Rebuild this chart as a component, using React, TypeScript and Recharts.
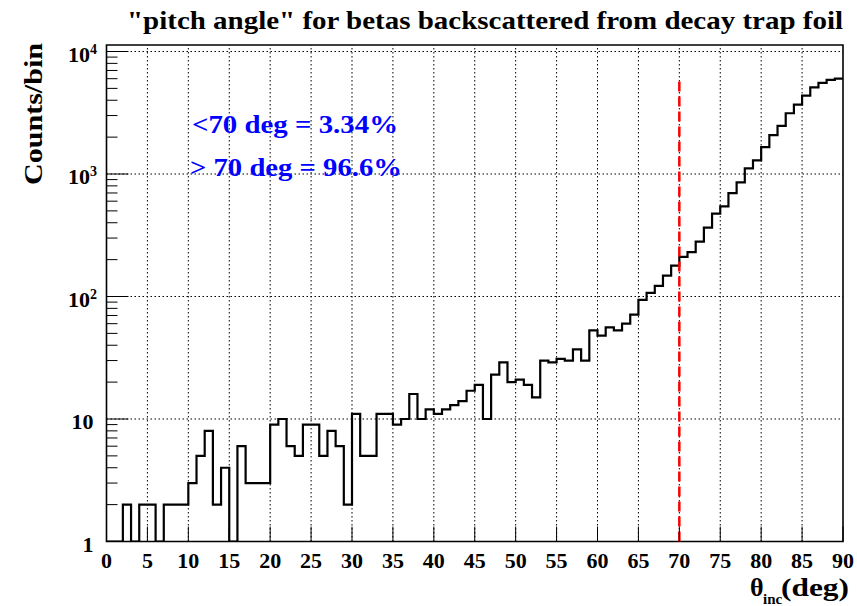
import React from "react";
import {
  LineChart,
  Line,
  XAxis,
  YAxis,
  ReferenceLine,
  ReferenceArea,
} from "recharts";

// Histogram: counts per 1-degree bin, bins 0..89 (left edges)
const binEdges: number[] = [
  0, 1, 2, 3, 4, 5, 6, 7, 8, 9, 10, 11, 12, 13, 14, 15, 16, 17, 18, 19,
  20, 21, 22, 23, 24, 25, 26, 27, 28, 29, 30, 31, 32, 33, 34, 35, 36, 37, 38, 39,
  40, 41, 42, 43, 44, 45, 46, 47, 48, 49, 50, 51, 52, 53, 54, 55, 56, 57, 58, 59,
  60, 61, 62, 63, 64, 65, 66, 67, 68, 69, 70, 71, 72, 73, 74, 75, 76, 77, 78, 79,
  80, 81, 82, 83, 84, 85, 86, 87, 88, 89, 90,
];

const counts: number[] = [
  1, 1, 2, 1, 2, 2, 1, 2, 2, 2,
  3, 5, 8, 2, 4, 1, 6, 3, 3, 3,
  9, 10, 6, 5, 9, 9, 5, 8, 6, 2,
  11, 5, 5, 11, 11, 9, 10, 16, 10, 12,
  11, 12, 13, 14, 17, 19, 10, 23, 29, 20,
  21, 19, 15, 30, 29, 31, 30, 37, 30, 53,
  48, 56, 53, 60, 71, 94, 107, 122, 148, 179,
  211, 230, 281, 365, 475, 545, 699, 855, 1111, 1291,
  1656, 2074, 2473, 3133, 3688, 4366, 5103, 5539, 5863, 6010,
];

const xTicks: number[] = [0, 5, 10, 15, 20, 25, 30, 35, 40, 45, 50, 55, 60, 65, 70, 75, 80, 85, 90];
const xGrid: number[] = [5, 10, 15, 20, 25, 30, 35, 40, 45, 50, 55, 60, 65, 70, 75, 80, 85];
const yMajorTicks: number[] = [1, 10, 100, 1000, 10000];
const yMinorMultipliers: number[] = [2, 3, 4, 5, 6, 7, 8, 9];
const yGrid: number[] = [10, 100, 1000, 10000];

const cutAngle = 70;
const xDomain: [number, number] = [0, 90];
const yDomain: [number, number] = [1, 11300];

const titleText = '"pitch angle" for betas backscattered from decay trap foil';
const yTitle = "Counts/bin";
const noteLow = "<70 deg = 3.34%";
const noteHigh = "> 70 deg = 96.6%";

// chart data for a step outline (last point closes the final bin)
const data = binEdges.map((edge, i) => ({
  x: edge,
  y: i < counts.length ? counts[i] : counts[counts.length - 1],
}));

const yTicks: number[] = [];
yMajorTicks.forEach((m) => {
  yTicks.push(m);
  if (m < 10000) yMinorMultipliers.forEach((k) => yTicks.push(m * k));
});

const FONT = '"Liberation Serif", "Times New Roman", Times, serif';

const XTick = (props: any) => {
  const { x, y, payload } = props;
  return (
    <g>
      <line x1={x} y1={y} x2={x} y2={y - 15} stroke="#000" strokeWidth={1} />
      <text
        x={x}
        y={y + 26.5}
        textAnchor="middle"
        fontFamily={FONT}
        fontWeight="bold"
        fontSize={22}
        fill="#000"
      >
        {payload.value}
      </text>
    </g>
  );
};

const YTick = (props: any) => {
  const { x, y, payload } = props;
  const v: number = payload.value;
  const lg = Math.log10(v);
  const exp = Math.round(lg);
  const major = Math.abs(lg - exp) < 1e-9;
  let label: React.ReactNode = null;
  if (major) {
    if (exp === 0 || exp === 1) {
      label = (
        <text x={x - 13} y={y + 10} textAnchor="end" fontFamily={FONT} fontWeight="bold" fontSize={22} fill="#000">
          {exp === 0 ? "1" : "10"}
        </text>
      );
    } else {
      label = (
        <text x={x - 9.5} y={y + 10} textAnchor="end" fontFamily={FONT} fontWeight="bold" fontSize={22} fill="#000">
          <tspan>10</tspan>
          <tspan dy={-8} fontSize={14}>
            {exp}
          </tspan>
        </text>
      );
    }
  }
  return (
    <g>
      <line x1={x} y1={y} x2={x + (major ? 22 : 11)} y2={y} stroke="#000" strokeWidth={1} />
      {label}
    </g>
  );
};

export default function App() {
  const maxCount = Math.max(...counts);
  return (
    <div style={{ position: "absolute", left: 0, top: 0, width: 857, height: 606, background: "#fff" }}>
      <LineChart
        width={857}
        height={606}
        data={data}
        margin={{ top: 45, right: 14, bottom: 0, left: 0 }}
      >
        <XAxis
          dataKey="x"
          type="number"
          domain={xDomain}
          ticks={xTicks}
          interval={0}
          height={64.5}
          tickSize={0}
          tickMargin={0}
          tickLine={false}
          axisLine={false}
          tick={<XTick />}
          allowDataOverflow
        />
        <YAxis
          type="number"
          scale="log"
          domain={yDomain}
          ticks={yTicks}
          interval={0}
          width={106.5}
          tickSize={0}
          tickMargin={0}
          tickLine={false}
          axisLine={false}
          tick={<YTick />}
          allowDataOverflow
        />
        {xGrid.map((gx) => (
          <ReferenceLine key={"gx" + gx} x={gx} stroke="#000" strokeWidth={1} strokeDasharray="1.5 2.5" />
        ))}
        {yGrid.map((gy) => (
          <ReferenceLine key={"gy" + gy} y={gy} stroke="#000" strokeWidth={1} strokeDasharray="1.5 2.5" />
        ))}
        <ReferenceArea
          x1={xDomain[0]}
          x2={xDomain[1]}
          y1={yDomain[0]}
          y2={yDomain[1]}
          fill="none"
          fillOpacity={0}
          stroke="#000"
          strokeWidth={1.6}
        />
        <Line
          dataKey="y"
          type="stepAfter"
          stroke="#000"
          strokeWidth={2.2}
          dot={false}
          activeDot={false}
          isAnimationActive={false}
        />
        <ReferenceLine
          segment={[
            { x: cutAngle, y: yDomain[0] },
            { x: cutAngle, y: maxCount },
          ]}
          stroke="#ff0000"
          strokeWidth={2.5}
          strokeDasharray="10 5"
        />
      </LineChart>
      <svg
        width={857}
        height={606}
        style={{ position: "absolute", left: 0, top: 0, pointerEvents: "none" }}
      >
        <text
          x={127}
          y={29}
          fontFamily={FONT}
          fontWeight="bold"
          fontSize={25}
          fill="#000"
          textLength={716}
          lengthAdjust="spacingAndGlyphs"
        >
          {titleText}
        </text>
        <text
          x={42}
          y={114}
          transform="rotate(-90 42 114)"
          textAnchor="middle"
          fontFamily={FONT}
          fontWeight="bold"
          fontSize={26}
          fill="#000"
          textLength={142}
          lengthAdjust="spacingAndGlyphs"
        >
          {yTitle}
        </text>
        <text x={750} y={596} fontFamily={FONT} fontWeight="bold" fontSize={26} fill="#000">
          θ
        </text>
        <text x={763} y={604} fontFamily={FONT} fontWeight="bold" fontSize={15} fill="#000">
          inc
        </text>
        <text
          x={781}
          y={596}
          fontFamily={FONT}
          fontWeight="bold"
          fontSize={26}
          fill="#000"
          textLength={68}
          lengthAdjust="spacingAndGlyphs"
        >
          (deg)
        </text>
        <text
          x={192}
          y={133}
          fontFamily={FONT}
          fontWeight="bold"
          fontSize={25}
          fill="#0000ff"
          textLength={206}
          lengthAdjust="spacingAndGlyphs"
        >
          {noteLow}
        </text>
        <text
          x={190}
          y={176}
          fontFamily={FONT}
          fontWeight="bold"
          fontSize={25}
          fill="#0000ff"
          textLength={212}
          lengthAdjust="spacingAndGlyphs"
        >
          {noteHigh}
        </text>
      </svg>
    </div>
  );
}
